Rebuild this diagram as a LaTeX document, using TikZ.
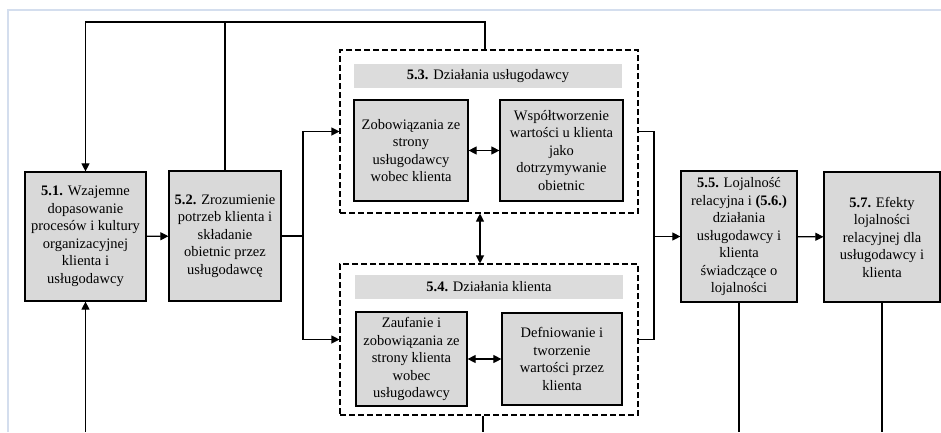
\documentclass[tikz,border=0pt]{standalone}
\usepackage{fontspec}
\setmainfont{Liberation Serif}
\usetikzlibrary{arrows.meta,positioning}
\definecolor{boxgray}{RGB}{217,217,217}
\definecolor{titlegray}{RGB}{220,220,220}
\definecolor{framebl}{RGB}{212,222,238}

\begin{document}
\begin{tikzpicture}[x=1pt, y=-1pt,
  stage/.style={draw, fill=boxgray, line width=1.2pt, inner sep=0pt,
    font=\fontsize{14.5}{17.5}\selectfont, align=center},
  group/.style={draw, dash pattern=on 6pt off 3pt, line width=1.1pt, inner sep=0pt},
  header/.style={fill=titlegray, inner sep=0pt, minimum width=268pt, minimum height=24pt,
    font=\fontsize{14.5}{17.5}\selectfont},
  conn/.style={line width=1.1pt},
  arr/.style={conn, -{Triangle[length=8pt, width=8pt]}},
  darr/.style={conn, {Triangle[length=8pt, width=8pt]}-{Triangle[length=8pt, width=8pt]}}]
\useasboundingbox (0,0) rectangle (941,432);
% frame
\draw[framebl, line width=1.5pt] (8,432) -- (8,10) -- (941,10);
% Left: 5.1 and 5.2
\node[stage, minimum width=121pt, minimum height=129pt] (s51) at (85.5,236.5)
  {\textbf{5.1.} Wzajemne\\dopasowanie\\procesów i kultury\\organizacyjnej\\klienta i\\usługodawcy};
\node[stage, minimum width=112pt, minimum height=130pt] (s52) at (225,236)
  {\textbf{5.2.} Zrozumienie\\potrzeb klienta i\\składanie\\obietnic przez\\usługodawcę};
\draw[arr] (s51) -- (s52);
% Middle top: 5.3
\node[group, minimum width=298pt, minimum height=163pt] (g53) at (489,131.5) {};
\node[header] (h53) at (488,76) {\textbf{5.3.} Działania usługodawcy};
\node[stage, minimum width=114pt, minimum height=101pt] (i53a) at (411,150.5)
  {Zobowiązania ze\\strony\\usługodawcy\\wobec klienta};
\node[stage, minimum width=123pt, minimum height=101pt] (i53b) at (561.5,150.5)
  {Współtworzenie\\wartości u klienta\\jako\\dotrzymywanie\\obietnic};
\draw[darr] (i53a) -- (i53b);
% Middle bottom: 5.4
\node[group, minimum width=298pt, minimum height=151pt] (g54) at (489,339.5) {};
\node[header] (h54) at (489,287) {\textbf{5.4.} Działania klienta};
\node[stage, minimum width=111pt, minimum height=94pt] (i54a) at (411.5,359)
  {Zaufanie i\\zobowiązania ze\\strony klienta\\wobec\\usługodawcy};
\node[stage, minimum width=120pt, minimum height=92pt] (i54b) at (562,359)
  {Defniowanie i\\tworzenie\\wartości przez\\klienta};
\draw[darr] (i54a) -- (i54b);
\coordinate (mid) at (480,238);
\draw[darr] (g53.south -| mid) -- (g54.north -| mid);
% Right: 5.5 and 5.7
\node[stage, minimum width=116pt, minimum height=131pt] (s55) at (739,236.5)
  {\textbf{5.5.} Lojalność\\relacyjna i \textbf{(5.6.)}\\działania\\usługodawcy i\\klienta\\świadczące o\\lojalności};
\node[stage, minimum width=116pt, minimum height=130pt] (s57) at (882,237)
  {\textbf{5.7.} Efekty\\lojalności\\relacyjnej dla\\usługodawcy i\\klienta};
\draw[arr] (s55) -- (s57);
% forks
\coordinate (forkL) at (303,236);
\draw[conn] (s52.east) -- (forkL);
\draw[arr] (forkL) |- (g53.west);
\draw[arr] (forkL) |- (g54.west);
\coordinate (forkR) at (654,236.5);
\draw[conn] (g53.east) -| (forkR);
\draw[conn] (g54.east) -| (forkR);
\draw[arr] (forkR) -- (s55.west);
% feedback loop on top
\coordinate (top) at (485,22);
\draw[arr] (g53.north -| top) -- (top) -| (s51.north);
\draw[conn] (s52.north) -- (s52.north |- top);
% lines leaving at the bottom
\coordinate (bot) at (0,432);
\coordinate (low) at (483,432);
\draw[arr] (s51.south |- bot) -- (s51.south);
\draw[conn] (g54.south -| low) -- (low);
\draw[conn] (s55.south) -- (s55.south |- bot);
\draw[conn] (s57.south) -- (s57.south |- bot);
\end{tikzpicture}
\end{document}
